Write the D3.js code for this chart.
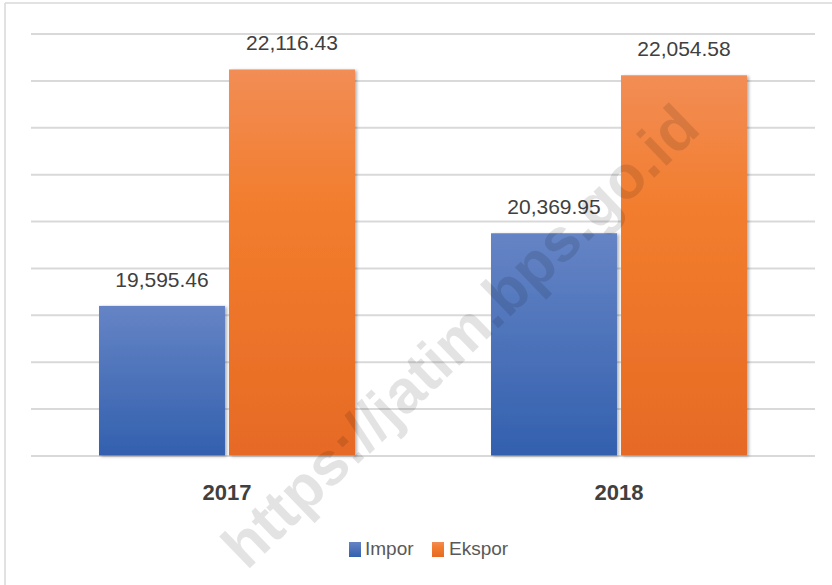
<!DOCTYPE html>
<html>
<head>
<meta charset="utf-8">
<script src="https://cdn.jsdelivr.net/npm/d3@7"></script>
<style>
  html, body { margin: 0; padding: 0; background: #ffffff; }
  svg { display: block; }
</style>
</head>
<body>
<svg id="chart" width="832" height="585"></svg>
<script>
const categories = ["2017", "2018"];
const seriesNames = ["Impor", "Ekspor"];
const impor = [19595.46, 20369.95];
const ekspor = [22116.43, 22054.58];
const valueLabels = {Impor: ["19,595.46", "20,369.95"], Ekspor: ["22,116.43", "22,054.58"]};
const yTicks = [18000, 18500, 19000, 19500, 20000, 20500, 21000, 21500, 22000, 22500];
const watermarkText = "https://jatim.bps.go.id";

const svg = d3.select("#chart");
const W = 832, H = 585;
const plot = {left: 31, right: 815, top: 33.5, bottom: 455.5};

const defs = svg.append("defs");
const gradB = defs.append("linearGradient").attr("id", "gImpor").attr("x1", 0).attr("y1", 0).attr("x2", 0).attr("y2", 1);
gradB.append("stop").attr("offset", "0%").attr("stop-color", "#6584c5");
gradB.append("stop").attr("offset", "100%").attr("stop-color", "#3360ae");
const gradO = defs.append("linearGradient").attr("id", "gEkspor").attr("x1", 0).attr("y1", 0).attr("x2", 0).attr("y2", 1);
gradO.append("stop").attr("offset", "0%").attr("stop-color", "#f28d55");
gradO.append("stop").attr("offset", "35%").attr("stop-color", "#f27d2e");
gradO.append("stop").attr("offset", "100%").attr("stop-color", "#e66a25");
const shadow = defs.append("filter").attr("id", "shadow").attr("x", "-10%").attr("y", "-10%").attr("width", "130%").attr("height", "130%");
shadow.append("feDropShadow").attr("dx", 2).attr("dy", 1).attr("stdDeviation", 1.8).attr("flood-color", "#000").attr("flood-opacity", 0.3);

// frame
svg.append("line").attr("x1", 5).attr("x2", 5).attr("y1", 3).attr("y2", H).attr("stroke", "#d9d9d9").attr("stroke-width", 1.5);
svg.append("line").attr("x1", 5).attr("x2", W).attr("y1", 3).attr("y2", 3).attr("stroke", "#d9d9d9").attr("stroke-width", 1.5);

const y = d3.scaleLinear().domain([18000, 22500]).range([plot.bottom, plot.top]);
const x0 = d3.scaleBand().domain(categories).range([plot.left, plot.right]).paddingInner(0.347).paddingOuter(0.1735);
const x1 = d3.scaleBand().domain(seriesNames).range([0, x0.bandwidth()]).paddingInner(0.031);

// gridlines
const grid = svg.append("g").attr("transform", `translate(${plot.left},0)`)
  .call(d3.axisLeft(y).tickValues(yTicks).tickSize(-(plot.right - plot.left)).tickFormat(""));
grid.select(".domain").remove();
grid.selectAll(".tick line").attr("stroke", "#d9d9d9").attr("stroke-width", 2);

const data = categories.map((c, i) => ({cat: c, values: [
  {key: "Impor", v: impor[i], label: valueLabels.Impor[i]},
  {key: "Ekspor", v: ekspor[i], label: valueLabels.Ekspor[i]}
]}));

const groups = svg.append("g").selectAll("g").data(data).join("g")
  .attr("transform", d => `translate(${x0(d.cat)},0)`);

groups.selectAll("rect").data(d => d.values).join("rect")
  .attr("x", d => x1(d.key))
  .attr("y", d => y(d.v))
  .attr("width", x1.bandwidth())
  .attr("height", d => y(18000) - y(d.v))
  .attr("fill", d => d.key === "Impor" ? "url(#gImpor)" : "url(#gEkspor)")
  .attr("filter", "url(#shadow)");

groups.selectAll("text").data(d => d.values).join("text")
  .attr("x", d => x1(d.key) + x1.bandwidth() / 2)
  .attr("y", d => y(d.v) - 19)
  .attr("text-anchor", "middle")
  .attr("font-family", "'Liberation Sans', Arial, sans-serif")
  .attr("font-size", 21)
  .attr("fill", "#404040")
  .text(d => d.label);

// category axis labels
svg.append("g").selectAll("text").data(categories).join("text")
  .attr("x", d => x0(d) + x0.bandwidth() / 2)
  .attr("y", 500)
  .attr("text-anchor", "middle")
  .attr("font-family", "'Liberation Sans', Arial, sans-serif")
  .attr("font-weight", "bold")
  .attr("font-size", 22)
  .attr("fill", "#404040")
  .text(d => d);

// legend
const legend = [
  {name: "Impor", x: 349, tx: 365},
  {name: "Ekspor", x: 432, tx: 449}
];
const lg = svg.append("g");
lg.selectAll("rect").data(legend).join("rect")
  .attr("x", d => d.x).attr("y", 542).attr("width", 12).attr("height", 15)
  .attr("fill", d => d.name === "Impor" ? "url(#gImpor)" : "url(#gEkspor)");
lg.selectAll("text").data(legend).join("text")
  .attr("x", d => d.tx).attr("y", 555)
  .attr("font-family", "'Liberation Sans', Arial, sans-serif")
  .attr("font-size", 19)
  .attr("fill", "#595959")
  .text(d => d.name);

// watermark
svg.append("text")
  .attr("transform", "translate(460,336) rotate(-44)")
  .attr("text-anchor", "middle")
  .attr("dominant-baseline", "central")
  .attr("font-family", "'Liberation Sans', Arial, sans-serif")
  .attr("font-weight", "bold")
  .attr("font-size", 61)
  .attr("fill", "#000")
  .attr("fill-opacity", 0.11)
  .text(watermarkText);
</script>
</body>
</html>
